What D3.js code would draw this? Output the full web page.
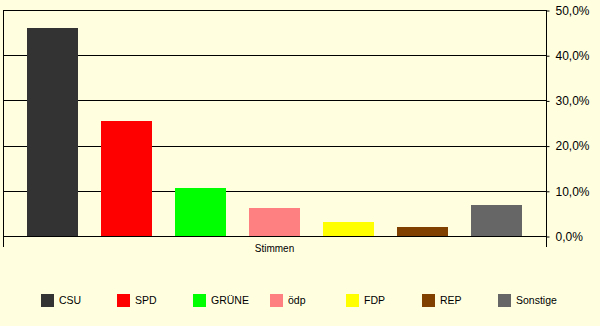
<!DOCTYPE html>
<html>
<head>
<meta charset="utf-8">
<script src="https://cdn.jsdelivr.net/npm/d3@7"></script>
<style>
  body { margin: 0; background: #ffffe0; }
  text { font-family: "Liberation Sans", Arial, sans-serif; fill: #000; }
</style>
</head>
<body>
<div id="chart"></div>
<script>
const width = 600;
const height = 326;

// daten
const parties = ["CSU", "SPD", "GRÜNE", "ödp", "FDP", "REP", "Sonstige"];
const shares = [46.0, 25.4, 10.6, 6.2, 3.1, 2.0, 6.9];
const colors = ["#333333", "#ff0000", "#00ff00", "#ff8080", "#ffff00", "#804000", "#666666"];
const yTicks = [0, 10, 20, 30, 40, 50];
const categoryLabel = "Stimmen";

const plot = { left: 3, right: 546, top: 10, bottom: 236 };

const svg = d3.select("#chart")
  .append("svg")
  .attr("width", width)
  .attr("height", height);

svg.append("rect")
  .attr("width", width)
  .attr("height", height)
  .attr("fill", "#ffffe0");

const x = d3.scaleBand()
  .domain(parties)
  .range([plot.left, plot.right])
  .paddingInner(0.31)
  .paddingOuter(0.324);

const y = d3.scaleLinear()
  .domain([0, 50])
  .range([plot.bottom, plot.top]);

// gitterlinien
svg.append("g")
  .selectAll("line")
  .data(yTicks)
  .enter()
  .append("line")
  .attr("x1", plot.left)
  .attr("x2", plot.right)
  .attr("y1", d => Math.round(y(d)) + 0.5)
  .attr("y2", d => Math.round(y(d)) + 0.5)
  .attr("stroke", "#000");

// balken
svg.append("g")
  .selectAll("rect")
  .data(parties)
  .enter()
  .append("rect")
  .attr("x", d => Math.round(x(d)))
  .attr("width", Math.round(x.bandwidth()))
  .attr("y", (d, i) => Math.round(y(shares[i])))
  .attr("height", (d, i) => Math.round(y(0)) - Math.round(y(shares[i])))
  .attr("fill", (d, i) => colors[i]);

// linke und rechte achse
[plot.left, plot.right].forEach(px => {
  svg.append("line")
    .attr("x1", px + 0.5).attr("x2", px + 0.5)
    .attr("y1", plot.top).attr("y2", 247)
    .attr("stroke", "#000");
});

// y-achse rechts
const yAxis = d3.axisRight(y)
  .tickValues(yTicks)
  .tickSize(3)
  .tickPadding(6)
  .tickFormat(d => d3.format(".1f")(d).replace(".", ",") + "%");

const axisG = svg.append("g")
  .attr("transform", `translate(${plot.right + 0.5},0.5)`)
  .call(yAxis);

axisG.select(".domain").remove();
axisG.selectAll(".tick line").attr("stroke", "#000");
axisG.selectAll("text")
  .attr("font-size", "12px")
  .attr("font-family", "'DejaVu Sans', sans-serif")
  .attr("fill", "#000");

// kategorie
svg.append("text")
  .attr("x", (plot.left + plot.right) / 2)
  .attr("y", 248)
  .attr("dy", "0.35em")
  .attr("text-anchor", "middle")
  .attr("font-size", "10px")
  .text(categoryLabel);

// legende
const legend = d3.scalePoint()
  .domain(parties)
  .range([41, 498]);

const items = svg.append("g")
  .selectAll("g")
  .data(parties)
  .enter()
  .append("g")
  .attr("transform", d => `translate(${Math.round(legend(d))},294)`);

items.append("rect")
  .attr("width", 13)
  .attr("height", 13)
  .attr("fill", (d, i) => colors[i]);

items.append("text")
  .attr("x", 18)
  .attr("y", 6.5)
  .attr("dy", "0.35em")
  .attr("font-size", "10.5px")
  .text(d => d);
</script>
</body>
</html>
